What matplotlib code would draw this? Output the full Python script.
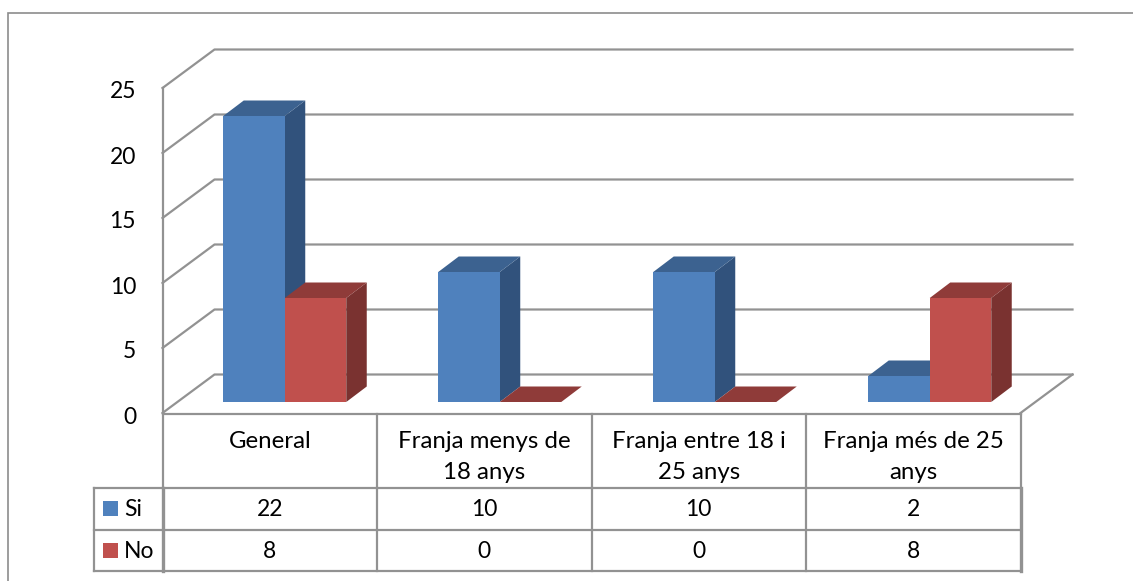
import matplotlib
matplotlib.use("Agg")
import matplotlib.pyplot as plt
from matplotlib.patches import Polygon, Rectangle

categories = ["General", "Franja menys de\n18 anys", "Franja entre 18 i\n25 anys", "Franja més de 25\nanys"]
si_values = [22, 10, 10, 2]
no_values = [8, 0, 0, 8]
y_ticks = [0, 5, 10, 15, 20, 25]

W, H = 1133, 581
PX_X0, PX_CAT = 162.5, 214.5      # pixel of category 0 edge, pixels per category
PX_Y0, PX_UNIT = 413.0, 13.0      # pixel of value 0, pixels per unit

plt.rcParams['font.family'] = ['Lato', 'DejaVu Sans']
fig = plt.figure(figsize=(W / 100, H / 100), dpi=100)
ax = fig.add_axes([0, 0, 1, 1])
ax.set_xlim((0 - PX_X0) / PX_CAT, (W - PX_X0) / PX_CAT)
ax.set_ylim((PX_Y0 - H) / PX_UNIT, PX_Y0 / PX_UNIT)
ax.axis("off")

def dx(px):
    return px / PX_CAT
def dy(px):
    return px / PX_UNIT
def X(px):
    return (px - PX_X0) / PX_CAT
def Y(py):
    return (PX_Y0 - py) / PX_UNIT

GRID = "#929292"
LW = 1.6
FS_TEXT = 17.3
FS_NUM = 16.5
SI = ("#4F81BD", "#3C6290", "#31527C")
NO = ("#C0504D", "#8F3B39", "#7A3230")
n = len(categories)

# outer frame: left and top edges only, running off the image
ax.plot([X(8), X(8), X(W + 2)], [Y(H + 2), Y(13), Y(13)], color="#8c8c8c", lw=1.2, solid_joinstyle="miter")

# walls
back_x, back_y = dx(52), dy(38.5)
for v in y_ticks:
    xs = [0, back_x, n + back_x]
    ys = [v, v + back_y, v + back_y]
    ax.plot(xs, ys, color=GRID, lw=LW, zorder=1)
ax.plot([0, 0], [0, y_ticks[-1]], color=GRID, lw=LW, zorder=1)
ax.plot([n, n + back_x], [0, back_y], color=GRID, lw=LW, zorder=1)

# bars
bar_w = 61.5 / PX_CAT
gap = (PX_CAT - 2 * 61.5) / 2 / PX_CAT
base_x, base_y = dx(15), dy(11)
dep_x, dep_y = dx(20.5), dy(15.5)
step = 215.0 / PX_CAT

def bar(x0, v, cols):
    x = x0 + base_x
    y0, y1 = base_y, base_y + v
    ax.add_patch(Polygon([(x + bar_w, y0), (x + bar_w + dep_x, y0 + dep_y), (x + bar_w + dep_x, y1 + dep_y), (x + bar_w, y1)], fc=cols[2], ec="none", zorder=3))
    ax.add_patch(Polygon([(x, y1), (x + dep_x, y1 + dep_y), (x + bar_w + dep_x, y1 + dep_y), (x + bar_w, y1)], fc=cols[1], ec="none", zorder=3))
    if v > 0:
        ax.add_patch(Rectangle((x, y0), bar_w, v, fc=cols[0], ec="none", zorder=4))

for i in range(n):
    bar(i * step + gap, si_values[i], SI)
    bar(i * step + gap + bar_w, no_values[i], NO)

# y tick labels
for v in y_ticks:
    ax.text(X(136), v + dy(-4), str(v), ha="right", va="center", fontsize=FS_NUM, color="black")

# data table
r0, r1, r2, r3 = Y(413.5), Y(488), Y(529.5), Y(571)
leg = X(94)
ax.plot([0, n], [r0, r0], color=GRID, lw=LW)
for y in (r1, r2, r3):
    ax.plot([leg, n], [y, y], color=GRID, lw=LW)
for i in range(n + 1):
    edge = i in (0, n)
    ax.plot([i, i], [r0, r1], color=GRID, lw=LW)
    ax.plot([i, i], [r1, r3], color=GRID, lw=2.4 if edge else LW)
ax.plot([leg, leg], [r1, r3], color=GRID, lw=LW)

for i in range(n):
    ax.text(i + 0.5, Y(431), categories[i], ha="center", va="top", fontsize=FS_TEXT, linespacing=1.6, color="black")
    ax.text(i + 0.5, (r1 + r2) / 2 - dy(1), str(si_values[i]), ha="center", va="center", fontsize=FS_NUM, color="black")
    ax.text(i + 0.5, (r2 + r3) / 2 - dy(1), str(no_values[i]), ha="center", va="center", fontsize=FS_NUM, color="black")

for label, col, yc in (("Si", SI[0], (r1 + r2) / 2), ("No", NO[0], (r2 + r3) / 2)):
    ax.add_patch(Rectangle((X(103), yc - dy(7.5)), dx(15), dy(15), fc=col, ec="none"))
    ax.text(X(124), yc - dy(1), label, ha="left", va="center", fontsize=FS_NUM, color="black")

fig.savefig("out.png", dpi=100, facecolor="white")
